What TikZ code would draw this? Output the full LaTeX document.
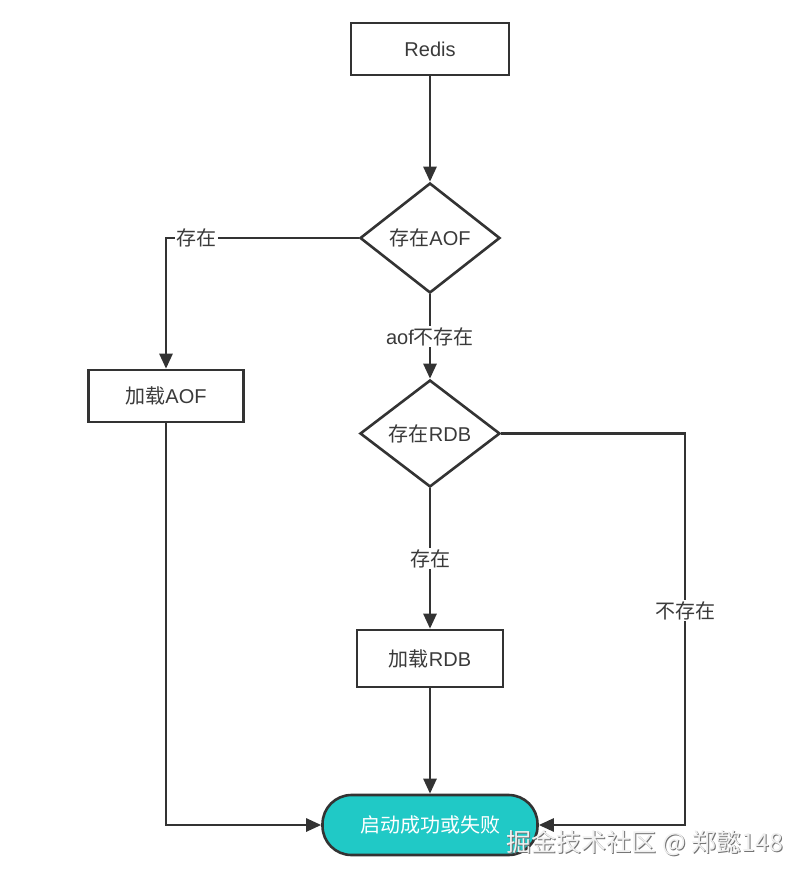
\documentclass[tikz,border=0pt]{standalone}
\usepackage{fontspec}
\setmainfont{Liberation Sans}
\newfontfamily\cjk{Noto Sans CJK SC}
\usetikzlibrary{shapes.geometric,arrows.meta}
\definecolor{ln}{HTML}{333333}
\definecolor{txt}{HTML}{3A3A3A}
\definecolor{tealfill}{HTML}{20C9C6}
\begin{document}
\begin{tikzpicture}[x=1pt,y=1pt,
  every node/.style={font=\fontsize{20}{24}\selectfont, text=txt},
  box/.style={draw=ln, line width=2.6pt, fill=white, inner sep=0pt},
  dia/.style={draw=ln, line width=2.6pt, fill=white, diamond, inner sep=0pt, minimum width=140pt, minimum height=110pt},
  term/.style={draw=ln, line width=2.6pt, fill=tealfill, rounded corners=29pt, minimum width=215pt, minimum height=60pt, inner sep=0pt},
  arr/.style={draw=ln, line width=2.6pt, -{Triangle[length=15pt,width=13pt]}},
  lbl/.style={fill=white, inner sep=1.5pt}
]
\useasboundingbox (0,0) rectangle (807,-882);
\node[box, minimum width=158pt, minimum height=52pt] (redis) at (430,-49) {Redis};
\node[dia] (aof) at (430,-238) {{\cjk 存在}AOF};
\node[box, minimum width=155pt, minimum height=52pt] (loadaof) at (166,-396) {{\cjk 加载}AOF};
\node[dia, minimum height=107pt] (rdb) at (430,-433.5) {{\cjk 存在}RDB};
\node[box, minimum width=146pt, minimum height=57pt] (loadrdb) at (430,-658.5) {{\cjk 加载}RDB};
\node[term] (end) at (430,-825) {\color{white}\cjk 启动成功或失败};
\coordinate (rc) at (685,-433.5);

\draw[arr] (redis) -- (aof);
\draw[arr] (aof.west) -| node[lbl, pos=0.42] {\cjk 存在} (loadaof.north);
\draw[arr] (aof) -- node[lbl] {aof{\cjk 不存在}} (rdb);
\draw[arr] (rdb) -- node[lbl] {\cjk 存在} (loadrdb);
\draw[arr] (loadrdb) -- (end);
\draw[arr] (loadaof.south) |- (end.west);
\draw[arr] (rdb.east) -- (rc) |- node[lbl, pos=0.226] {\cjk 不存在} (end.east);

\node[font=\fontsize{25}{29}\cjk, text=black!55] (wmsh) at (646,-844.5) {掘金技术社区 @ 郑懿148};
\node[font=\fontsize{25}{29}\cjk, text=white!94!black] (wm) at (645,-843) {掘金技术社区 @ 郑懿148};
\end{tikzpicture}
\end{document}
